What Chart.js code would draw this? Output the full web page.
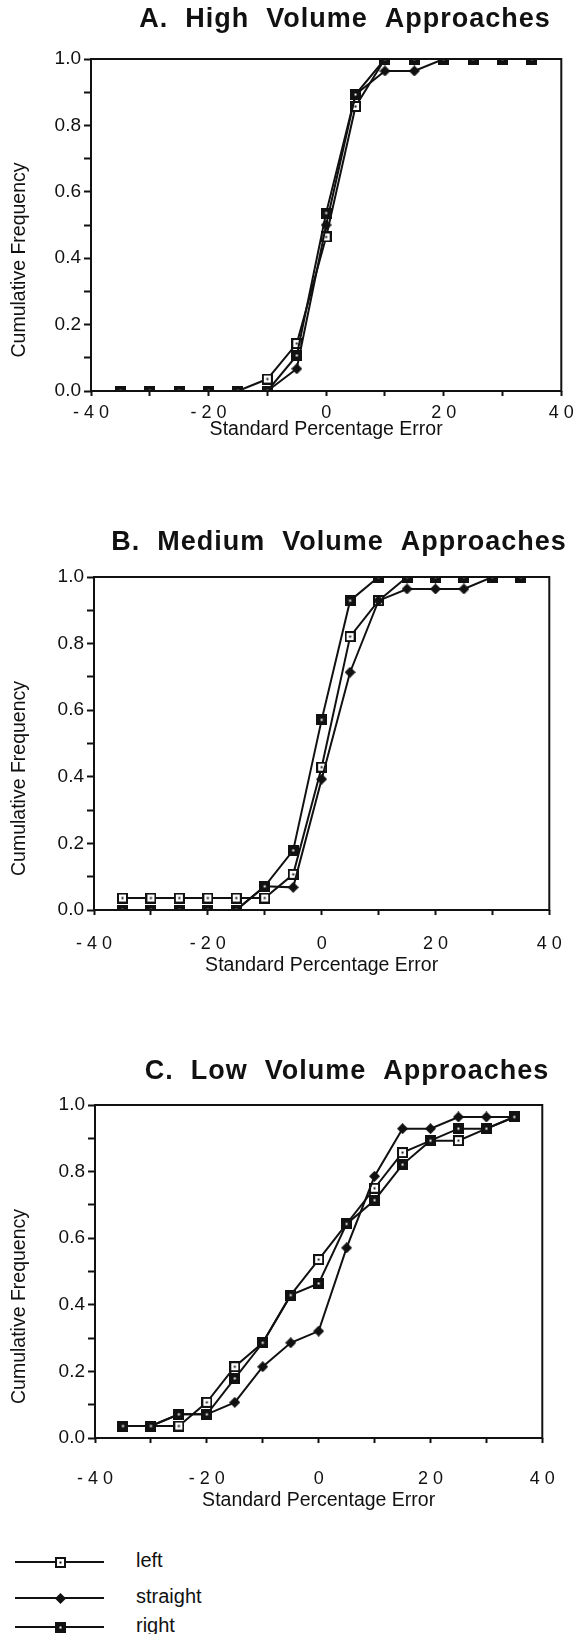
<!DOCTYPE html>
<html>
<head>
<meta charset="utf-8">
<script src="https://cdn.jsdelivr.net/npm/chart.js@4.4.1/dist/chart.umd.min.js"></script>
<style>
  html, body { margin: 0; padding: 0; background: #fff; }
  body { position: relative; width: 580px; height: 1634px; overflow: hidden;
         font-family: "Liberation Sans", Arial, Helvetica, sans-serif; color: #111; }
  canvas { position: absolute; left: 0; }
  #legend { position: absolute; left: 0; top: 1530px; width: 300px; height: 104px; }
  .row { position: absolute; left: 0; width: 300px; height: 20px; }
  .row .line { position: absolute; left: 15px; width: 89px; top: 9px; height: 2px; background: #111; }
  .row canvas { position: absolute; left: 55px; top: 5px; }
  .row span { position: absolute; left: 136px; top: -2px; font-size: 20px; line-height: 20px; }
</style>
</head>
<body>
<canvas id="chartA" width="580" height="470" style="top:0px"></canvas>
<canvas id="chartB" width="580" height="500" style="top:500px"></canvas>
<canvas id="chartC" width="580" height="500" style="top:1030px"></canvas>
<div id="legend"></div>
<script>
// Cumulative frequency of standard percentage error, by approach volume.
const errorBins = [-35, -30, -25, -20, -15, -10, -5, 0, 5, 10, 15, 20, 25, 30, 35];

const highLeft     = [0, 0, 0, 0, 0, 0.036, 0.143, 0.464, 0.857, 1, 1, 1, 1, 1, 1];
const highStraight = [0, 0, 0, 0, 0, 0, 0.067, 0.5, 0.893, 0.964, 0.964, 1, 1, 1, 1];
const highRight    = [0, 0, 0, 0, 0, 0, 0.107, 0.536, 0.893, 1, 1, 1, 1, 1, 1];

const medLeft     = [0.036, 0.036, 0.036, 0.036, 0.036, 0.036, 0.107, 0.429, 0.821, 0.929, 1, 1, 1, 1, 1];
const medStraight = [0, 0, 0, 0, 0, 0.071, 0.068, 0.393, 0.714, 0.929, 0.964, 0.964, 0.964, 1, 1];
const medRight    = [0, 0, 0, 0, 0, 0.071, 0.179, 0.571, 0.929, 1, 1, 1, 1, 1, 1];

const lowLeft     = [0.036, 0.036, 0.036, 0.107, 0.214, 0.286, 0.429, 0.536, 0.643, 0.75, 0.857, 0.893, 0.893, 0.929, 0.964];
const lowStraight = [0.036, 0.036, 0.071, 0.071, 0.107, 0.214, 0.286, 0.321, 0.571, 0.786, 0.929, 0.929, 0.964, 0.964, 0.964];
const lowRight    = [0.036, 0.036, 0.071, 0.071, 0.179, 0.286, 0.429, 0.464, 0.643, 0.714, 0.821, 0.893, 0.929, 0.929, 0.964];

const xTickValues = [-40, -20, 0, 20, 40];
const xTickText = ["- 4 0", "- 2 0", "0", "2 0", "4 0"];
const yTickText = ["0.0", "0.2", "0.4", "0.6", "0.8", "1.0"];
const seriesNames = ["left", "straight", "right"];

const FONT = '"Liberation Sans", Arial, Helvetica, sans-serif';
const INK = "#111";

// small marker bitmaps used as point styles
function marker(kind) {
  const c = document.createElement("canvas");
  c.width = 11; c.height = 11;
  const g = c.getContext("2d");
  if (kind === "left") {
    g.fillStyle = "#fff"; g.fillRect(0, 0, 11, 11);
    g.strokeStyle = INK; g.lineWidth = 2; g.strokeRect(1, 1, 9, 9);
    g.fillStyle = INK; g.fillRect(4.5, 4.5, 2, 2);
  } else if (kind === "right") {
    g.fillStyle = INK; g.fillRect(0, 0, 11, 11);
    g.fillStyle = "#fff"; g.fillRect(4.5, 4.5, 2, 2);
  } else {
    g.fillStyle = INK;
    g.beginPath(); g.moveTo(5.5, 0); g.lineTo(11, 5.5); g.lineTo(5.5, 11); g.lineTo(0, 5.5);
    g.closePath(); g.fill();
  }
  return c;
}
const markers = { left: marker("left"), straight: marker("straight"), right: marker("right") };

// closed box round the plot area
const frame = {
  id: "frame",
  afterDatasetsDraw(chart) {
    const { ctx, chartArea: a } = chart;
    ctx.save();
    ctx.strokeStyle = INK;
    ctx.lineWidth = 2;
    ctx.strokeRect(a.left, a.top, a.right - a.left, a.bottom - a.top);
    ctx.restore();
  },
};

// the scanned figure has its title a bit right of the plot centre, spaced out,
// and the y title sitting lower than the axis middle
const nudge = {
  id: "nudge",
  afterLayout(chart, args, opts) {
    const t = chart.titleBlock;
    if (t) {
      const dx = opts.titleX - (t.left + t.right) / 2;
      t.left += dx;
      t.right += dx;
      if (!t._spaced) {
        const draw = t.draw;
        t.draw = function () {
          this.ctx.save();
          this.ctx.letterSpacing = opts.spacing + "px";
          draw.call(this);
          this.ctx.restore();
        };
        t._spaced = true;
      }
    }
    const y = chart.scales.y;
    if (y && !y._shifted) {
      const drawTitle = y.drawTitle;
      y.drawTitle = function () {
        this.top += opts.yTitleShift;
        this.bottom += opts.yTitleShift;
        drawTitle.call(this);
        this.top -= opts.yTitleShift;
        this.bottom -= opts.yTitleShift;
      };
      y._shifted = true;
    }
  },
};

function series(name, values) {
  return {
    label: name,
    data: errorBins.map((x, i) => ({ x, y: values[i] })),
    borderColor: INK,
    borderWidth: 2,
    pointStyle: markers[name],
    pointRadius: 5,
    tension: 0,
  };
}

// g: geometry in canvas pixels (chart box, title centre, label rows)
function panel(id, titleText, left, straight, right, g) {
  const canvas = document.getElementById(id);
  const H = canvas.height;
  return new Chart(canvas, {
    type: "line",
    data: { datasets: [series("right", right), series("straight", straight), series("left", left)] },
    options: {
      responsive: false,
      animation: false,
      layout: { padding: { left: 0, right: 580 - g.right, top: 0, bottom: 0 } },
      plugins: {
        legend: { display: false },
        tooltip: { enabled: false },
        title: {
          display: true,
          text: titleText,
          fullSize: false,
          color: INK,
          font: { family: FONT, size: 27, weight: "bold" },
          padding: { top: g.titleC - 16.2, bottom: g.top - (g.titleC - 16.2) - 32.4 },
        },
        nudge: { titleX: g.titleX, spacing: 1, yTitleShift: 35 },
      },
      scales: {
        x: {
          type: "linear",
          min: -40,
          max: 40,
          afterFit: (s) => { s.height = H - g.bottom; },
          border: { display: false },
          grid: { drawOnChartArea: false, drawTicks: true, tickLength: 5, tickColor: INK, tickWidth: 2 },
          ticks: {
            stepSize: 10,
            autoSkip: false,
            maxRotation: 0,
            color: INK,
            padding: g.xLabC - g.bottom - 5 - 10.8,
            font: { family: FONT, size: 18 },
            callback: (v) => {
              const i = xTickValues.indexOf(Math.round(v));
              return i >= 0 ? xTickText[i] : "";
            },
          },
          title: {
            display: true,
            text: "Standard Percentage Error",
            color: INK,
            font: { family: FONT, size: 19.5 },
            padding: { top: 0, bottom: H - g.xTitleC - 11.7 },
          },
        },
        y: {
          min: 0,
          max: 1,
          afterFit: (s) => { s.width = g.left; },
          border: { display: false },
          grid: { drawOnChartArea: false, drawTicks: true, tickLength: 7, tickColor: INK, tickWidth: 2 },
          ticks: {
            stepSize: 0.1,
            autoSkip: false,
            color: INK,
            padding: 3,
            font: { family: FONT, size: 19 },
            callback: (v) => {
              const k = Math.round(v * 10);
              return k % 2 === 0 ? yTickText[k / 2] : "";
            },
          },
          title: {
            display: true,
            text: "Cumulative Frequency",
            color: INK,
            font: { family: FONT, size: 19.5 },
            padding: { top: 8.3, bottom: 0 },
          },
        },
      },
    },
    plugins: [frame, nudge],
  });
}

panel("chartA", "A.  High  Volume  Approaches", highLeft, highStraight, highRight,
  { left: 91, right: 564, top: 59, bottom: 391, titleC: 20, titleX: 345, xLabC: 413, xTitleC: 430 });
panel("chartB", "B.  Medium  Volume  Approaches", medLeft, medStraight, medRight,
  { left: 94, right: 567, top: 77, bottom: 410, titleC: 43, titleX: 339, xLabC: 444, xTitleC: 466 });
panel("chartC", "C.  Low  Volume  Approaches", lowLeft, lowStraight, lowRight,
  { left: 95, right: 568, top: 75, bottom: 408, titleC: 42, titleX: 347, xLabC: 449, xTitleC: 471 });

// legend rows below the last panel
const legend = document.getElementById("legend");
const rowTops = [22, 58, 87];
seriesNames.forEach((name, i) => {
  const row = document.createElement("div");
  row.className = "row";
  row.style.top = rowTops[i] + "px";
  const line = document.createElement("div");
  line.className = "line";
  row.appendChild(line);
  row.appendChild(marker(name));
  const label = document.createElement("span");
  label.textContent = name;
  row.appendChild(label);
  legend.appendChild(row);
});
</script>
</body>
</html>
